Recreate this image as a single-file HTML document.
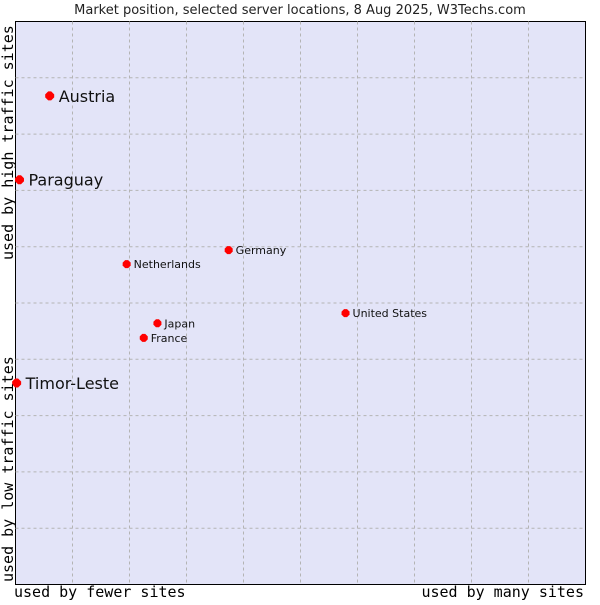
<!DOCTYPE html>
<html><head><meta charset="utf-8"><style>
body{margin:0;background:#fff;width:600px;height:600px;overflow:hidden}
svg text{font-family:"DejaVu Sans","Liberation Sans",sans-serif}
</style></head><body>
<svg id="chart" width="600" height="600">
<text x="300" y="14" text-anchor="middle" font-size="13" fill="#222">Market position, selected server locations, 8 Aug 2025, W3Techs.com</text>
<rect x="15.5" y="21.5" width="570" height="563" fill="#e3e4f8" stroke="#000" stroke-width="1"/>
<g id="grid"></g>
<g id="points"></g>
<text x="14" y="597" font-family="DejaVu Sans Mono" font-size="15" fill="#000" style="font-family:'DejaVu Sans Mono',monospace">used by fewer sites</text>
<text x="584" y="597" text-anchor="end" font-size="15" fill="#000" style="font-family:'DejaVu Sans Mono',monospace">used by many sites</text>
<text transform="translate(13,260) rotate(-90)" font-size="15" fill="#000" style="font-family:'DejaVu Sans Mono',monospace">used by high traffic sites</text>
<text transform="translate(13,582) rotate(-90)" font-size="15" fill="#000" style="font-family:'DejaVu Sans Mono',monospace">used by low traffic sites</text>
</svg>
<script>
const names=["Austria","Paraguay","Germany","Netherlands","United States","Japan","France","Timor-Leste"];
const xValues=[6.0,0.7,37.4,19.5,57.9,24.9,22.5,0.2];
const yValues=[86.8,71.9,59.4,56.9,48.2,46.4,43.8,35.8];
const highlighted=[true,true,false,false,false,false,false,true];
const NS="http://www.w3.org/2000/svg";
const L=15.5,R=585.5,T=21.5,B=584.5;
const sx=v=>L+(R-L)*v/100, sy=v=>B-(B-T)*v/100;
const grid=document.getElementById('grid');
for(let i=1;i<10;i++){
  const gx=L+57*i;
  const l=document.createElementNS(NS,'line');
  
  
  l.setAttribute('x1',gx);l.setAttribute('x2',gx);l.setAttribute('y1',T);l.setAttribute('y2',B);
  l.setAttribute('stroke','#b4b4b4');l.setAttribute('stroke-dasharray','3,3');
  grid.appendChild(l);
  const gy=T+56.3*i;
  const h=document.createElementNS(NS,'line');
  
  
  h.setAttribute('x1',L);h.setAttribute('x2',R);h.setAttribute('y1',gy);h.setAttribute('y2',gy);
  h.setAttribute('stroke','#b4b4b4');h.setAttribute('stroke-dasharray','3,3');
  grid.appendChild(h);
}
const pts=document.getElementById('points');
names.forEach((n,i)=>{
  const x=sx(xValues[i]),y=sy(yValues[i]);
  const d=document.createElementNS(NS,'path');
  
  
  const r=highlighted[i]?4.5:4;
  d.setAttribute('d',`M${x-r} ${y-1.5}L${x-1.5} ${y-r}L${x+1.5} ${y-r}L${x+r} ${y-1.5}L${x+r} ${y+1.5}L${x+1.5} ${y+r}L${x-1.5} ${y+r}L${x-r} ${y+1.5}Z`);
  d.setAttribute('fill','#ff0000');
  pts.appendChild(d);
  const t=document.createElementNS(NS,'text');
  
  
  t.setAttribute('x',x+(highlighted[i]?9:7));
  t.setAttribute('y',y+(highlighted[i]?6:4));
  t.setAttribute('font-size',highlighted[i]?16:11);
  t.setAttribute('fill','#111');
  t.textContent=n;
  pts.appendChild(t);
});
</script>
</body></html>
